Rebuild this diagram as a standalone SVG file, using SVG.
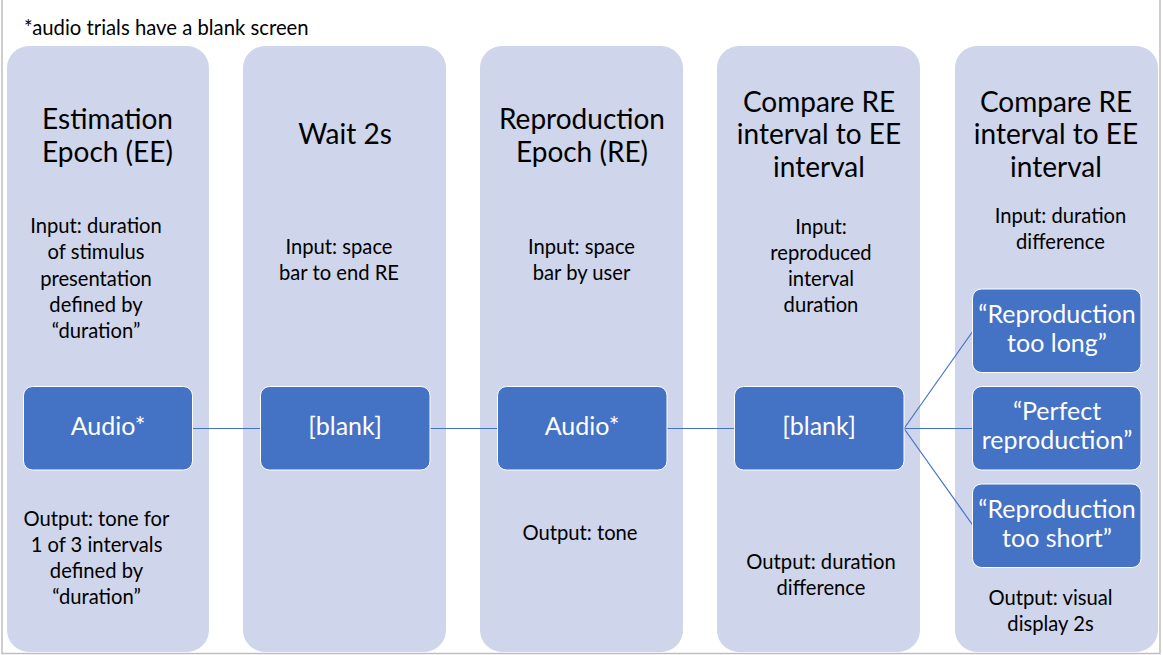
<svg xmlns="http://www.w3.org/2000/svg" width="1163" height="655" viewBox="0 0 1163 655">
<style>
.col{fill:#CFD5EA}
.box{fill:#4472C4;stroke:#FFFFFF;stroke-width:1}
.t{font-family:Lato,"Liberation Sans",sans-serif;text-anchor:middle;fill:#000}
.title{font-size:28px}
.body{font-size:20.2px}
.bt{font-family:Lato,"Liberation Sans",sans-serif;text-anchor:middle;fill:#FFFFFF;font-size:25px}
.note{font-family:Lato,"Liberation Sans",sans-serif;font-size:20.3px;fill:#000}
.conn{stroke:#4472C4;stroke-width:1.2;fill:none}
.frame{stroke:#BFBFBF;stroke-width:1.5;fill:none}
</style>
<rect width="1163" height="655" fill="#FFFFFF"/>
<path class="frame" d="M2,0 V653.5 H1160 V0"/>
<text class="note" x="24" y="34.5">*audio trials have a blank screen</text>

<g id="col1">
<rect class="col" x="7" y="46" width="202" height="606" rx="22"/>
<text class="t title" x="107.5" y="129">Estimation</text>
<text class="t title" x="107.5" y="162">Epoch (EE)</text>
<text class="t body" x="96" y="233">Input: duration</text>
<text class="t body" x="96" y="259">of stimulus</text>
<text class="t body" x="96" y="285.5">presentation</text>
<text class="t body" x="96" y="311.5">defined by</text>
<text class="t body" x="96" y="338">“duration”</text>
<text class="t body" x="96.5" y="525.7">Output: tone for</text>
<text class="t body" x="96.5" y="551.7">1 of 3 intervals</text>
<text class="t body" x="96.5" y="577.5">defined by</text>
<text class="t body" x="96.5" y="603.5">“duration”</text>
</g>
<g id="col2">
<rect class="col" x="243" y="46" width="203" height="606" rx="22"/>
<text class="t title" x="345" y="144">Wait 2s</text>
<text class="t body" x="339" y="254">Input: space</text>
<text class="t body" x="339" y="280">bar to end RE</text>
</g>
<g id="col3">
<rect class="col" x="480" y="46" width="203" height="606" rx="22"/>
<text class="t title" x="582" y="129">Reproduction</text>
<text class="t title" x="582" y="162">Epoch (RE)</text>
<text class="t body" x="581.5" y="254">Input: space</text>
<text class="t body" x="581.5" y="280">bar by user</text>
<text class="t body" x="580" y="540">Output: tone</text>
</g>
<g id="col4">
<rect class="col" x="717" y="46" width="203" height="606" rx="22"/>
<text class="t title" x="819" y="111.7">Compare RE</text>
<text class="t title" x="819" y="144">interval to EE</text>
<text class="t title" x="819" y="176.5">interval</text>
<text class="t body" x="821" y="234">Input:</text>
<text class="t body" x="821" y="260">reproduced</text>
<text class="t body" x="821" y="286">interval</text>
<text class="t body" x="821" y="312">duration</text>
<text class="t body" x="821" y="568.5">Output: duration</text>
<text class="t body" x="821" y="594.5">difference</text>
</g>
<g id="col5">
<rect class="col" x="955" y="46" width="203" height="606" rx="22"/>
<text class="t title" x="1056" y="111.7">Compare RE</text>
<text class="t title" x="1056" y="144">interval to EE</text>
<text class="t title" x="1056" y="176.5">interval</text>
<text class="t body" x="1060.5" y="222.7">Input: duration</text>
<text class="t body" x="1060.5" y="248.5">difference</text>
<text class="t body" x="1050.5" y="605">Output: visual</text>
<text class="t body" x="1050.5" y="630.5">display 2s</text>
</g>

<g id="connectors">
<line class="conn" x1="192" y1="428.5" x2="261" y2="428.5"/>
<line class="conn" x1="430" y1="428.5" x2="498" y2="428.5"/>
<line class="conn" x1="667" y1="428.5" x2="735" y2="428.5"/>
<line class="conn" x1="904" y1="428.5" x2="973" y2="331"/>
<line class="conn" x1="904" y1="428.5" x2="973" y2="428.5"/>
<line class="conn" x1="904" y1="428.5" x2="973" y2="525.5"/>
</g>

<g id="box-audio1">
<rect class="box" x="23.5" y="386.5" width="169" height="83.5" rx="9"/>
<text class="bt" x="108" y="434.5">Audio*</text>
</g>
<g id="box-blank1">
<rect class="box" x="260.5" y="386.5" width="169.5" height="83.5" rx="9"/>
<text class="bt" x="345" y="434.5">[blank]</text>
</g>
<g id="box-audio2">
<rect class="box" x="497.5" y="386.5" width="169.5" height="83.5" rx="9"/>
<text class="bt" x="582" y="434.5">Audio*</text>
</g>
<g id="box-blank2">
<rect class="box" x="734.5" y="386.5" width="169.5" height="83.5" rx="9"/>
<text class="bt" x="819" y="434.5">[blank]</text>
</g>
<g id="box-long">
<rect class="box" x="972.5" y="289" width="168.5" height="83.5" rx="9"/>
<text class="bt" x="1057" y="323.3">“Reproduction</text>
<text class="bt" x="1057" y="351.7">too long”</text>
</g>
<g id="box-perfect">
<rect class="box" x="972.5" y="386.5" width="168.5" height="83.5" rx="9"/>
<text class="bt" x="1057" y="420">“Perfect</text>
<text class="bt" x="1057" y="449">reproduction”</text>
</g>
<g id="box-short">
<rect class="box" x="972.5" y="484" width="168.5" height="83.5" rx="9"/>
<text class="bt" x="1057" y="518.3">“Reproduction</text>
<text class="bt" x="1057" y="546.7">too short”</text>
</g>
</svg>
